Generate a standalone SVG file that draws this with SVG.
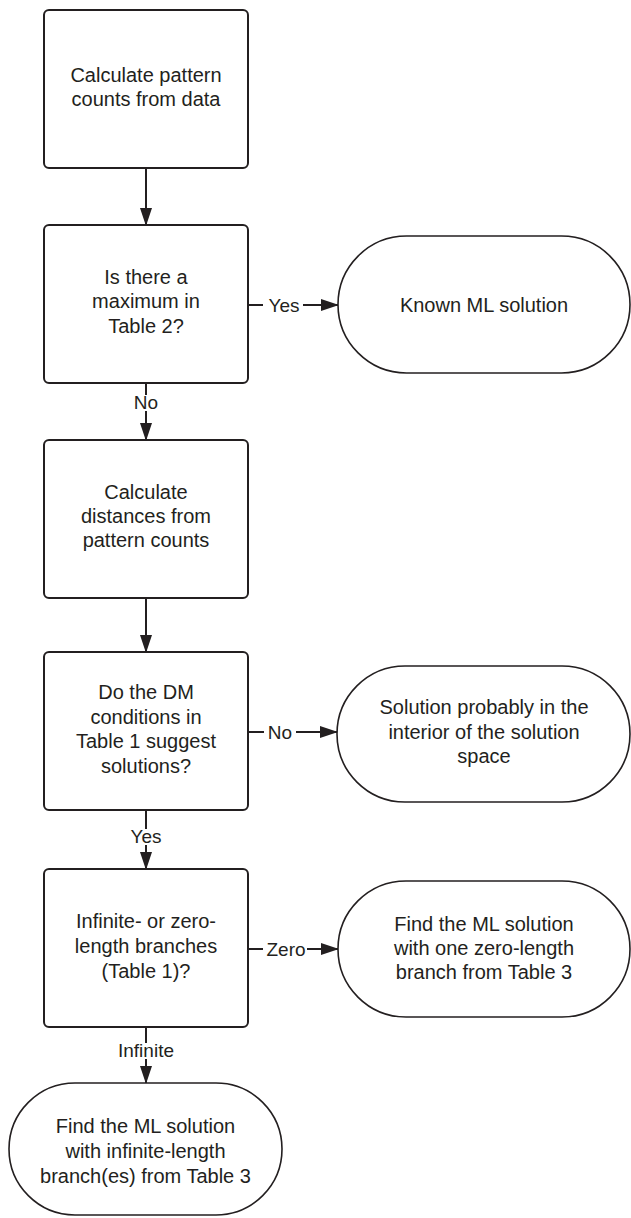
<svg xmlns="http://www.w3.org/2000/svg" width="631" height="1218" viewBox="0 0 631 1218">
<style>
.box{fill:#fff;stroke:#231f20;stroke-width:2}
.term{fill:#fff;stroke:#231f20;stroke-width:1.6}
.t{font-family:"Liberation Sans",Arial,sans-serif;font-size:20px;fill:#231f20;text-anchor:middle}
.lbl{font-family:"Liberation Sans",Arial,sans-serif;font-size:19px;fill:#231f20;text-anchor:middle}
.ln{stroke:#231f20;stroke-width:2;fill:none}
.bg{fill:#fff}
</style>
<defs>
<marker id="ah" markerUnits="userSpaceOnUse" markerWidth="18" markerHeight="12" refX="17" refY="6" orient="auto">
<path d="M0,0 L18,6 L0,12 z" fill="#231f20"/>
</marker>
</defs>
<rect width="631" height="1218" fill="#fff"/>
<g id="connectors">
<line class="ln" x1="146" y1="168" x2="146" y2="225" marker-end="url(#ah)"/>
<line class="ln" x1="248" y1="305" x2="338" y2="305" marker-end="url(#ah)"/>
<rect class="bg" x="263" y="294" width="40" height="22"/>
<text class="lbl" x="284" y="312">Yes</text>
<line class="ln" x1="146" y1="383" x2="146" y2="440" marker-end="url(#ah)"/>
<rect class="bg" x="133" y="395" width="26" height="16"/>
<text class="lbl" x="146" y="409">No</text>
<line class="ln" x1="146" y1="598" x2="146" y2="652" marker-end="url(#ah)"/>
<line class="ln" x1="248" y1="732" x2="337" y2="732" marker-end="url(#ah)"/>
<rect class="bg" x="264" y="721" width="32" height="22"/>
<text class="lbl" x="280" y="739">No</text>
<line class="ln" x1="146" y1="810" x2="146" y2="869" marker-end="url(#ah)"/>
<rect class="bg" x="129" y="829" width="34" height="16"/>
<text class="lbl" x="146" y="843">Yes</text>
<line class="ln" x1="248" y1="949" x2="338" y2="949" marker-end="url(#ah)"/>
<rect class="bg" x="263" y="938" width="44" height="22"/>
<text class="lbl" x="286" y="956">Zero</text>
<line class="ln" x1="146" y1="1027" x2="146" y2="1083" marker-end="url(#ah)"/>
<rect class="bg" x="112" y="1043" width="68" height="16"/>
<text class="lbl" x="146" y="1057">Infinite</text>
</g>
<g id="n1">
<rect class="box" x="44" y="10" width="204" height="158" rx="5"/>
<text class="t" x="146" y="82">Calculate pattern</text>
<text class="t" x="146" y="106">counts from data</text>
</g>
<g id="n2">
<rect class="box" x="44" y="225" width="204" height="158" rx="5"/>
<text class="t" x="146" y="284">Is there a</text>
<text class="t" x="146" y="308">maximum in</text>
<text class="t" x="146" y="333">Table 2?</text>
</g>
<g id="t1">
<rect class="term" x="338" y="236" width="292" height="137" rx="68.5"/>
<text class="t" x="484" y="312">Known ML solution</text>
</g>
<g id="n3">
<rect class="box" x="44" y="440" width="204" height="158" rx="5"/>
<text class="t" x="146" y="499">Calculate</text>
<text class="t" x="146" y="523">distances from</text>
<text class="t" x="146" y="547">pattern counts</text>
</g>
<g id="n4">
<rect class="box" x="44" y="652" width="204" height="158" rx="5"/>
<text class="t" x="146" y="699">Do the DM</text>
<text class="t" x="146" y="724">conditions in</text>
<text class="t" x="146" y="748">Table 1 suggest</text>
<text class="t" x="146" y="773">solutions?</text>
</g>
<g id="t2">
<rect class="term" x="337" y="666" width="293" height="136" rx="68"/>
<text class="t" x="484" y="714">Solution probably in the</text>
<text class="t" x="484" y="739">interior of the solution</text>
<text class="t" x="484" y="763">space</text>
</g>
<g id="n5">
<rect class="box" x="44" y="869" width="204" height="158" rx="5"/>
<text class="t" x="146" y="928">Infinite- or zero-</text>
<text class="t" x="146" y="953">length branches</text>
<text class="t" x="146" y="978">(Table 1)?</text>
</g>
<g id="t3">
<rect class="term" x="338" y="881" width="292" height="136" rx="68"/>
<text class="t" x="484" y="931">Find the ML solution</text>
<text class="t" x="484" y="955">with one zero-length</text>
<text class="t" x="484" y="979">branch from Table 3</text>
</g>
<g id="t4">
<rect class="term" x="9" y="1083" width="273" height="132" rx="66"/>
<text class="t" x="145.5" y="1133">Find the ML solution</text>
<text class="t" x="145.5" y="1158">with infinite-length</text>
<text class="t" x="145.5" y="1183">branch(es) from Table 3</text>
</g>
</svg>
